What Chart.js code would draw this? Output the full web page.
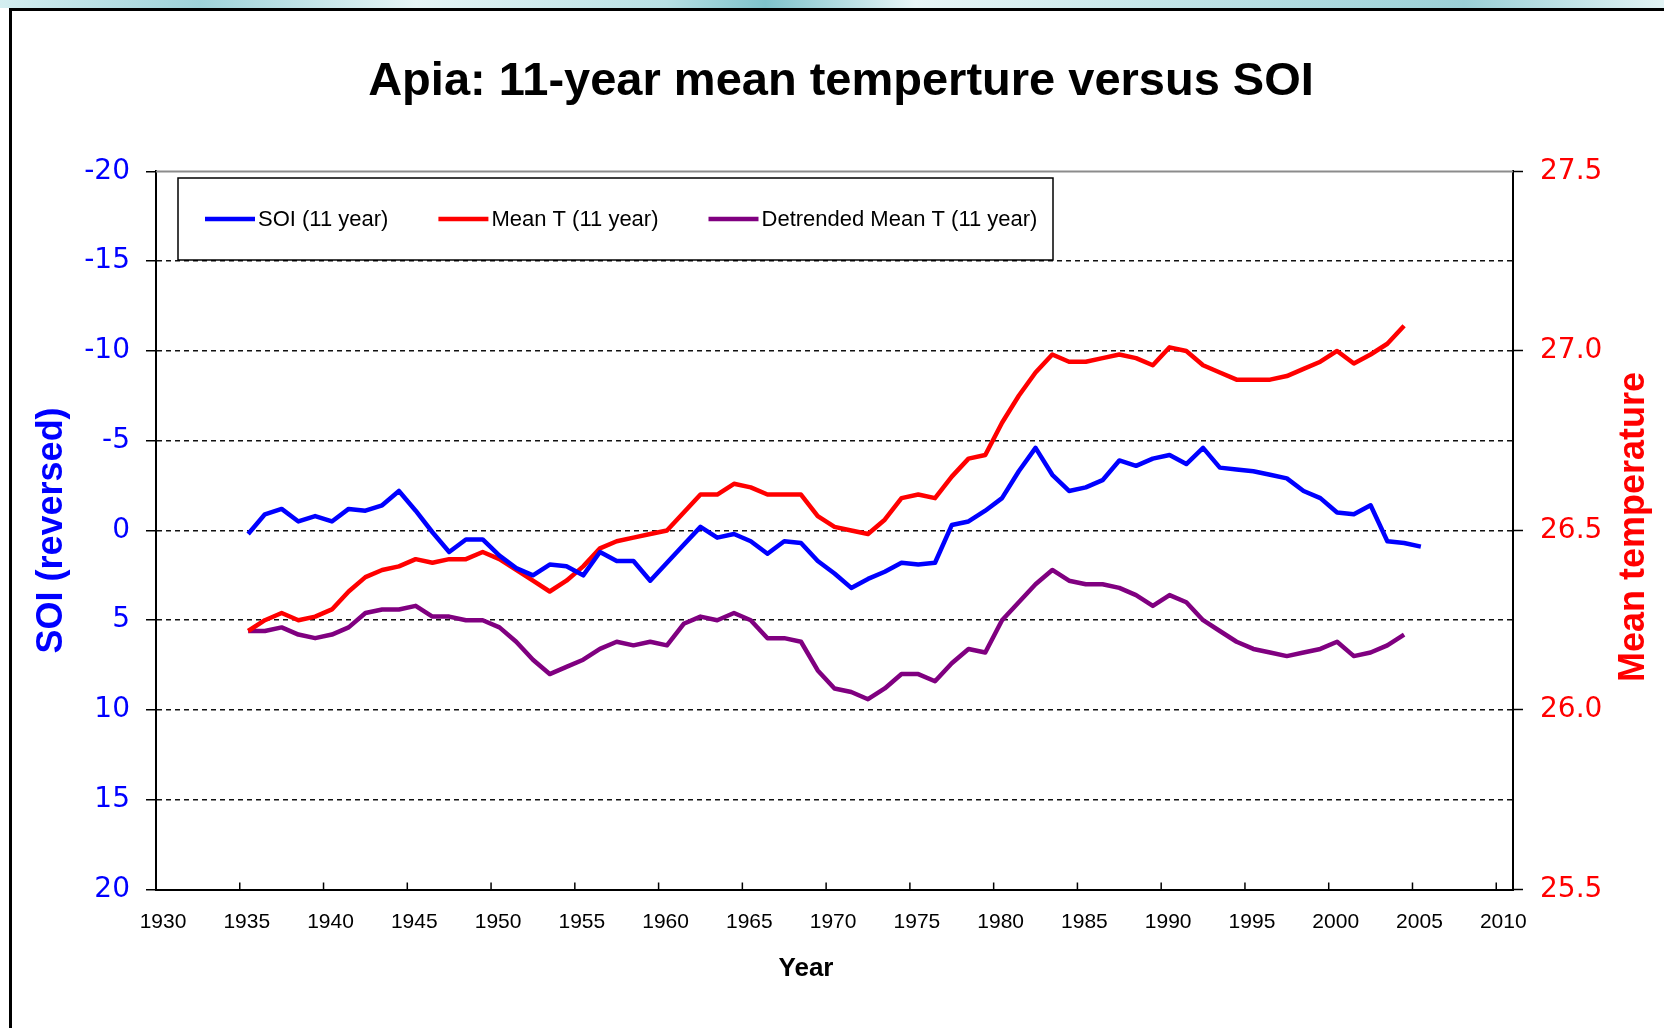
<!DOCTYPE html>
<html>
<head>
<meta charset="utf-8">
<title>Apia: 11-year mean temperture versus SOI</title>
<script src="https://cdn.jsdelivr.net/npm/chart.js@4.4.0/dist/chart.umd.min.js"></script>
<style>
  html, body { margin: 0; padding: 0; background: #fff; }
  #wrap { position: relative; width: 1664px; height: 1028px; overflow: hidden; background: #fff; }
  #strip { position: absolute; left: 0; top: 0; width: 1664px; height: 8px;
    background: linear-gradient(90deg, #d4eef0 0%, #9fd3da 12%, #e6f5f6 25%, #b8e0e4 40%, #7fc3cc 46%, #e9f6f7 55%, #c3e5e8 70%, #9bd0d7 88%, #e2f3f4 100%); }
  #frame { position: absolute; left: 9px; top: 8px; width: 1700px; height: 1100px;
    border-left: 3px solid #000; border-top: 3px solid #000; }
  canvas { position: absolute; left: 0; top: 0; }
</style>
</head>
<body>
<div id="wrap">
  <div id="strip"></div>
  <div id="frame"></div>
  <canvas id="chart" width="1664" height="1028"></canvas>
</div>
<script>
// centre year of each 11-year window
const years = [
  1935.5, 1936.5, 1937.5, 1938.5, 1939.5, 1940.5, 1941.5, 1942.5, 1943.5, 1944.5,
  1945.5, 1946.5, 1947.5, 1948.5, 1949.5, 1950.5, 1951.5, 1952.5, 1953.5, 1954.5,
  1955.5, 1956.5, 1957.5, 1958.5, 1959.5, 1960.5, 1961.5, 1962.5, 1963.5, 1964.5,
  1965.5, 1966.5, 1967.5, 1968.5, 1969.5, 1970.5, 1971.5, 1972.5, 1973.5, 1974.5,
  1975.5, 1976.5, 1977.5, 1978.5, 1979.5, 1980.5, 1981.5, 1982.5, 1983.5, 1984.5,
  1985.5, 1986.5, 1987.5, 1988.5, 1989.5, 1990.5, 1991.5, 1992.5, 1993.5, 1994.5,
  1995.5, 1996.5, 1997.5, 1998.5, 1999.5, 2000.5, 2001.5, 2002.5, 2003.5, 2004.5,
  2005.5
];

const soi11 = [
  0.2, -0.9, -1.2, -0.5, -0.8, -0.5, -1.2, -1.1, -1.4, -2.2,
  -1.1, 0.1, 1.2, 0.5, 0.5, 1.4, 2.1, 2.5, 1.9, 2.0,
  2.5, 1.2, 1.7, 1.7, 2.8, 1.8, 0.8, -0.2, 0.4, 0.2,
  0.6, 1.3, 0.6, 0.7, 1.7, 2.4, 3.2, 2.7, 2.3, 1.8,
  1.9, 1.8, -0.3, -0.5, -1.1, -1.8, -3.3, -4.6, -3.1, -2.2,
  -2.4, -2.8, -3.9, -3.6, -4.0, -4.2, -3.7, -4.6, -3.5, -3.4,
  -3.3, -3.1, -2.9, -2.2, -1.8, -1.0, -0.9, -1.4, 0.6, 0.7,
  0.9
];

const meanT11 = [
  26.22, 26.25, 26.27, 26.25, 26.26, 26.28, 26.33, 26.37, 26.39, 26.40,
  26.42, 26.41, 26.42, 26.42, 26.44, 26.42, 26.39, 26.36, 26.33, 26.36,
  26.40, 26.45, 26.47, 26.48, 26.49, 26.50, 26.55, 26.60, 26.60, 26.63,
  26.62, 26.60, 26.60, 26.60, 26.54, 26.51, 26.50, 26.49, 26.53, 26.59,
  26.60, 26.59, 26.65, 26.70, 26.71, 26.80, 26.875, 26.94, 26.99, 26.97,
  26.97, 26.98, 26.99, 26.98, 26.96, 27.01, 27.00, 26.96, 26.94, 26.92,
  26.92, 26.92, 26.93, 26.95, 26.97, 27.00, 26.965, 26.99, 27.02, 27.07
];

const detrendedT11 = [
  26.22, 26.22, 26.23, 26.21, 26.20, 26.21, 26.23, 26.27, 26.28, 26.28,
  26.29, 26.26, 26.26, 26.25, 26.25, 26.23, 26.19, 26.14, 26.10, 26.12,
  26.14, 26.17, 26.19, 26.18, 26.19, 26.18, 26.24, 26.26, 26.25, 26.27,
  26.25, 26.20, 26.20, 26.19, 26.11, 26.06, 26.05, 26.03, 26.06, 26.10,
  26.10, 26.08, 26.13, 26.17, 26.16, 26.25, 26.30, 26.35, 26.39, 26.36,
  26.35, 26.35, 26.34, 26.32, 26.29, 26.32, 26.30, 26.25, 26.22, 26.19,
  26.17, 26.16, 26.15, 26.16, 26.17, 26.19, 26.15, 26.16, 26.18, 26.21
];

const yearTicks = [1930, 1935, 1940, 1945, 1950, 1955, 1960, 1965, 1970, 1975,
                   1980, 1985, 1990, 1995, 2000, 2005, 2010];

const BLUE = '#0000ff';
const RED = '#ff0000';
const PURPLE = '#800080';
const SANS = '"Liberation Sans", Arial, sans-serif';

function toPoints(values) {
  return values.map((v, i) => ({ x: years[i], y: v }));
}

// legend box, inner x-axis ticks, top frame line and right-hand axis title
const chartExtras = {
  id: 'chartExtras',
  afterDraw(chart) {
    const { ctx, chartArea: area, scales } = chart;
    ctx.save();

    ctx.strokeStyle = '#8c8c8c';
    ctx.lineWidth = 2;
    ctx.beginPath();
    ctx.moveTo(area.left, area.top);
    ctx.lineTo(area.right, area.top);
    ctx.stroke();

    ctx.strokeStyle = '#000';
    ctx.lineWidth = 1.5;
    scales.x.ticks.forEach(t => {
      const px = scales.x.getPixelForValue(t.value);
      ctx.beginPath();
      ctx.moveTo(px, area.bottom);
      ctx.lineTo(px, area.bottom - 7);
      ctx.stroke();
    });

    ctx.fillStyle = '#000';
    ctx.font = 'bold 26px ' + SANS;
    ctx.textAlign = 'center';
    ctx.textBaseline = 'middle';
    ctx.fillText('Year', 806, 969);

    ctx.save();
    ctx.translate(1634, 527);
    ctx.rotate(-Math.PI / 2);
    ctx.fillStyle = RED;
    ctx.font = 'bold 36px ' + SANS;
    ctx.fillText('Mean temperature', 0, 0);
    ctx.restore();

    // legend
    ctx.fillStyle = '#fff';
    ctx.fillRect(178, 178, 875, 82);
    ctx.strokeStyle = '#000';
    ctx.lineWidth = 1.5;
    ctx.strokeRect(178, 178, 875, 82);
    ctx.font = '22px ' + SANS;
    ctx.textAlign = 'left';
    let x = 205;
    const y = 219;
    chart.data.datasets.forEach(ds => {
      ctx.strokeStyle = ds.borderColor;
      ctx.lineWidth = 4.5;
      ctx.beginPath();
      ctx.moveTo(x, y);
      ctx.lineTo(x + 50, y);
      ctx.stroke();
      ctx.fillStyle = '#000';
      ctx.fillText(ds.label, x + 53, y + 1);
      x += 53 + ctx.measureText(ds.label).width + 50;
    });

    ctx.restore();
  }
};

new Chart(document.getElementById('chart'), {
  type: 'line',
  data: {
    datasets: [
      { label: 'SOI (11 year)', data: toPoints(soi11), yAxisID: 'soi',
        borderColor: BLUE, borderWidth: 4.5 },
      { label: 'Mean T (11 year)', data: toPoints(meanT11), yAxisID: 'temp',
        borderColor: RED, borderWidth: 4.5 },
      { label: 'Detrended Mean T (11 year)', data: toPoints(detrendedT11), yAxisID: 'temp',
        borderColor: PURPLE, borderWidth: 4.5 }
    ]
  },
  options: {
    responsive: false,
    animation: false,
    elements: { point: { radius: 0 }, line: { tension: 0, borderJoinStyle: 'round' } },
    // left padding pushes the centred title slightly right
    layout: { padding: { left: 18, right: 0, top: 0, bottom: 0 } },
    plugins: {
      legend: { display: false },
      tooltip: { enabled: false },
      title: {
        display: true,
        text: 'Apia: 11-year mean temperture versus SOI',
        color: '#000',
        font: { family: SANS, size: 47, weight: 'bold', lineHeight: 1.2 },
        padding: { top: 54, bottom: 61 }
      }
    },
    scales: {
      x: {
        type: 'linear',
        min: 1930,
        max: 2011,
        afterBuildTicks: s => { s.ticks = yearTicks.map(v => ({ value: v })); },
        afterFit: s => { s.height = 138.5; },
        ticks: {
          color: '#000',
          font: { family: SANS, size: 21 },
          padding: 20,
          labelOffset: 7,
          maxRotation: 0,
          autoSkip: false,
          callback: v => String(v)
        },
        grid: { display: false, drawTicks: false },
        border: { color: '#000', width: 2 }
      },
      soi: {
        position: 'left',
        reverse: true,
        min: -20,
        max: 20,
        afterFit: s => { s.width = 138; },
        ticks: {
          stepSize: 5,
          color: BLUE,
          font: { family: '"DejaVu Sans"', size: 28 },
          padding: 16,
          callback: v => String(v)
        },
        grid: {
          color: c => (c.tick && Math.abs(c.tick.value) === 20) ? 'rgba(0,0,0,0)' : '#111',
          lineWidth: 1.5,
          tickLength: 10,
          tickColor: '#000',
          tickWidth: 1.5,
          tickBorderDash: []
        },
        border: { color: '#000', width: 2, dash: [5, 4] },
        title: {
          display: true,
          text: 'SOI (reversed)',
          color: BLUE,
          font: { family: SANS, size: 36, weight: 'bold', lineHeight: 1.2 },
          padding: { top: 12, bottom: 0 }
        }
      },
      temp: {
        position: 'right',
        min: 25.5,
        max: 27.5,
        afterFit: s => { s.width = 151; },
        ticks: {
          stepSize: 0.5,
          color: RED,
          font: { family: '"DejaVu Sans"', size: 28 },
          padding: 17,
          callback: v => v.toFixed(1)
        },
        grid: {
          drawOnChartArea: false,
          tickLength: 10,
          tickColor: '#000',
          tickWidth: 1.5
        },
        border: { color: '#000', width: 2 }
      }
    }
  },
  plugins: [chartExtras]
});
</script>
</body>
</html>
